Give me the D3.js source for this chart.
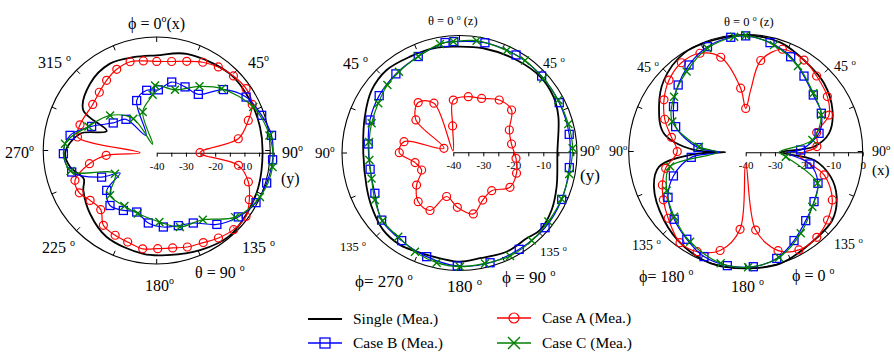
<!DOCTYPE html>
<html><head><meta charset="utf-8">
<script src="https://cdn.jsdelivr.net/npm/d3@7"></script>
<style>body{margin:0;background:#fff} text{font-family:"Liberation Serif","Times New Roman",serif;fill:#000}</style>
</head><body><svg id="c" width="894" height="355"></svg>
<script>
// ---------- DATA (angle in degrees clockwise from top, level in dB) ----------
const p1SingleAng = [0,16.9,42.9,60.7,76,90,108.7,124,139,156,174,187.5,210.7,227.5,242.8,250.4,260.6,270,283.9,293.4,300,316,332.3,346.3];
const p1SingleDb  = [-6.7,-4.7,-3.2,-3.4,-3.6,-3.8,-3.3,-2.8,-2.2,-3.5,-4.8,-5.1,-6.5,-9.1,-11.8,-13.5,-10,-8.7,-13,-21.4,-11,-7.2,-5.6,-6.4];
const p1CaseAAng = [0,9.3,18.2,27,35.7,45,54.4,63.2,70.6,80.3,90,98.8,107.7,116.9,125.5,135,144.1,152.6,162,170.5,179.4,188.3,198,206.7,216.3,224.5,234.4,242.6,251.3,260.7,267,270,281.2,290,307,316.5,325.3,334.4,343.7,351.7];
const p1CaseADb  = [-8.8,-8.4,-7.1,-5.3,-3.9,-2.9,-2.4,-3.4,-6.8,-11.7,-25.2,-11.7,-7.1,-4.5,-2.5,-2.8,-4.0,-5.4,-6.1,-7.0,-7.2,-6.8,-7.9,-8.4,-9.2,-12.7,-12.0,-10.2,-10.5,-16.7,-22.7,-34.3,-12.4,-12.1,-12.6,-11.5,-9.9,-8.4,-7.6,-8.3];
const p1CaseATips = [270];
const p1CaseBAng = [1.5,12,23.3,35.5,46.6,58.1,70.4,81.4,93.5,105.4,116.7,128.2,140,152.5,163.5,174.9,186.8,198.6,210,221.5,233,241,246.1,257.2,269.4,281.3,292,304.4,317.4,328.4,339,350.9];
const p1CaseBDb  = [-18.5,-15.3,-15.5,-15.5,-8.6,-4.0,-1.9,-0.3,-0.3,-1.0,-2.0,-4.5,-8.0,-12.9,-14,-14.5,-15.8,-18.6,-17.2,-15.9,-18.6,-25.7,-19.4,-10.2,-8.1,-9.8,-16,-22,-24.5,-33,-20.9,-18.4];
const p1CaseBTips = [241,328.4];
const p1CaseCAng = [16.2,32.8,45.4,64.7,81.3,97,113.2,129.4,145.5,162.6,177.8,197.3,211.2,227.6,243.3,258,275.6,291,308.7,325.5,334.4,341,356,358.6];
const p1CaseCDb  = [-17.6,-13,-8.8,-3.5,-1.0,-0.1,-1.6,-5.3,-12.2,-13.4,-16.3,-18.2,-18.7,-18.4,-24,-9.9,-8.5,-15,-19.6,-25.9,-36.8,-25.3,-20.1,-17];
const p1CaseCTips = [334.4];

const p2SingleAng = [0,16.1,34.4,48.9,60.9,71.2,90,108.4,120.4,131.9,139.5,151.8,165.9,176.5,187.2,200.3,209.9,222,236.4,248.4,269.4,292,307.4,321,335.6,349.1];
const p2SingleDb  = [-4.8,-3.9,-2.7,-1.6,-1.8,-3.0,-5.3,-3.7,-2.0,-1.2,-2.3,-2.4,-3.6,-3.5,-4.4,-4.7,-4.4,-5.1,-7.3,-8.9,-10,-8.2,-5.8,-4.7,-5.0,-4.7];
const p2CaseAAng = [0,15.1,27.7,41.3,54,68.3,81.9,95.5,108.3,121.7,135,148.4,162,175.8,188.6,201.8,215.4,228.3,240.8,254.9,269.6,282.2,293,310.9,324.8,338.5,350,358.5];
const p2CaseADb  = [-22.6,-20.8,-19.7,-16.8,-16,-19.9,-20.4,-19,-17.8,-17.8,-21.9,-21.3,-18.4,-21.6,-25.1,-19.1,-19.8,-23.6,-27.9,-26.8,-22,-23.2,-36.6,-23.5,-19.7,-22.4,-39.5,-31.2];
const p2CaseATips = [350];
const p2CaseBAng = [0.3,16.1,32.8,49.2,64.9,81.2,97.5,113.5,129.4,145.8,161.6,178,194.3,210.3,226.6,242.4,258.5,275.6,291.2,307.4,323.8,339.9,355.7];
const p2CaseBDb  = [-3.1,-2.0,-1.4,-1.1,-1.0,-0.9,-1.0,-0.6,-0.4,-0.9,-1.2,-2.1,-4.1,-5.9,-7.1,-10.5,-11.7,-11.5,-10.2,-8.9,-7.6,-6.0,-3.3];
const p2CaseCAng = [0,11.8,27.7,38,50.6,63.5,76.2,88,100.6,113.3,126.1,138.4,151.3,164.1,176.7,188.6,201.1,213.1,226,238.7,252.3,264.8,277,289.6,303.2,315.6,326,339.9,353];
const p2CaseCDb  = [-3.1,-2.0,-1.7,-1.2,-1.2,-0.9,-0.5,-0.2,-0.7,-0.7,-0.8,-0.65,-0.6,-1.5,-1.8,-2.8,-4.5,-6.4,-7.2,-9.4,-11.4,-11.9,-11.7,-11.1,-10.1,-8.6,-7.6,-6.0,-3.6];

const p3SingleAng = [0,17.7,34.7,48.6,64,77.2,85.3,90,96.4,106,116,128,144.5,162.5,180,197.5,213.2,230.4,249.5,260.6,268,270,272.6,283,297.8,311.5,328,342.9];
const p3SingleDb  = [0,-0.65,-3,-4.3,-7.0,-10.8,-16.6,-28,-16.5,-9.8,-5.4,-2.4,-1.8,-0.2,-0.3,-0.2,-1.5,-3.7,-6.5,-10,-22.3,-33,-22.3,-11.3,-6.5,-2.7,-0.1,-0.1];
const p3CaseAAng = [0,4.6,9.3,19.6,32.3,42.9,55.7,65.9,74.5,85.4,93,106.1,118.8,129.6,140.1,151.4,161.8,172.7,180,184.2,194.6,206,216,229.6,240,248.6,258.7,270.6,281.4,292.2,302.7,313.3,324.3,335.2,345.3,355.5];
const p3CaseADb  = [-25,-18.6,-8.2,-2.6,-2.7,-4.4,-6.2,-8.8,-14.8,-15.6,-21.5,-12.1,-6.2,-3.7,-2.1,-2.0,-4.6,-13.2,-36.2,-13.6,-5.3,-2.2,-1.8,-5.2,-7.5,-9.4,-12.1,-16.6,-14.1,-10.1,-6.8,-4.0,-2.3,-2.7,-6.4,-18];
const p3CaseATips = [4.6,93,180];
const p3CaseBAng = [0,12.5,25.2,37.4,49.7,62.7,75.5,87.6,90.5,100.3,113.2,125.8,138.7,151.3,163.7,176.2,189.2,201.8,214.1,226.9,239.9,251.9,264.7,270,275.6,290.1,302.3,314.9,327,340.1,352.6];
const p3CaseBDb  = [-0.2,-1.6,-3.9,-7.2,-9.7,-10.9,-14.1,-21.2,-25.8,-17.7,-13.1,-11.2,-8.9,-5.6,-2.2,-0.8,-0.75,-1.6,-4.1,-6.5,-9.3,-14,-21.3,-31,-23.6,-14.5,-10.8,-7.4,-4.4,-1.6,-0.35];
const p3CaseBTips = [90.5,270];
const p3CaseCAng = [0,14.8,31.2,48.9,63.7,79.5,90,96.2,113.4,129.2,145.8,162.4,178.8,192.7,211.9,228,244.1,259.3,270,276.9,292.7,307.8,323.8,339.8,354.3];
const p3CaseCDb  = [0,-2.1,-5.5,-9.3,-11.2,-16.8,-28.6,-26.2,-13.3,-10.6,-6.5,-2.3,-0.7,-1.1,-4.0,-7.1,-10,-13.7,-30.3,-23.9,-12.8,-9.0,-5.8,-2.1,-0.3];
const p3CaseCTips = [90,270];

const radialDomain = [-40, 0];
const radialTicks = [-40,-35,-30,-25,-20,-15,-10,-5,0];
const p1TickLabels = [-40,-30,-20,-10];
const p2TickLabels = [-40,-30,-20,-10];
const p3TickLabels = [-40,-30,-20,-10,0];
const seriesNames = ["Single (Mea.)","Case A (Mea.)","Case B (Mea.)","Case C (Mea.)"];

// ---------- STYLE / LAYOUT ----------
const FONT = "'Liberation Serif','Times New Roman',serif";
const styles = [
  {color:"#000000", width:1.8, marker:null},
  {color:"#ff0000", width:1.2, marker:"circle"},
  {color:"#0000ff", width:1.2, marker:"square"},
  {color:"#008000", width:1.2, marker:"cross"}
];

const svg = d3.select("#c");

const panels = [
  {cx:156.7, cy:152.7, R:117, ring:{cx:156.7, cy:150.5, r:113.5}, labels:p1TickLabels,
   data:[[p1SingleAng,p1SingleDb,[]],[p1CaseAAng,p1CaseADb,p1CaseATips],[p1CaseBAng,p1CaseBDb,p1CaseBTips],[p1CaseCAng,p1CaseCDb,p1CaseCTips]]},
  {cx:453.3, cy:152.3, R:120, ring:{cx:459.5, cy:153, r:117.5}, labels:p2TickLabels,
   data:[[p2SingleAng,p2SingleDb,[]],[p2CaseAAng,p2CaseADb,p2CaseATips],[p2CaseBAng,p2CaseBDb,[]],[p2CaseCAng,p2CaseCDb,[]]]},
  {cx:745.7, cy:152.3, R:117, ring:{cx:745.7, cy:151.5, r:117}, labels:p3TickLabels,
   data:[[p3SingleAng,p3SingleDb,[]],[p3CaseAAng,p3CaseADb,p3CaseATips],[p3CaseBAng,p3CaseBDb,p3CaseBTips],[p3CaseCAng,p3CaseCDb,p3CaseCTips]]}
];

function drawMarker(g, type, x, y, color, s) {
  if (type === "circle") {
    g.append("circle").attr("cx",x).attr("cy",y).attr("r",s).attr("fill","none").attr("stroke",color).attr("stroke-width",1.2);
  } else if (type === "square") {
    g.append("rect").attr("x",x-s).attr("y",y-s).attr("width",2*s).attr("height",2*s).attr("fill","none").attr("stroke",color).attr("stroke-width",1.3);
  } else if (type === "cross") {
    g.append("path").attr("d",`M${x-s},${y-s}L${x+s},${y+s}M${x-s},${y+s}L${x+s},${y-s}`).attr("stroke",color).attr("stroke-width",1.4);
  }
}

panels.forEach(p => {
  const r = d3.scaleLinear().domain(radialDomain).range([0, p.R]).clamp(true);
  const pt = (a, v) => { const t = a*Math.PI/180, rr = r(v); return [p.cx + rr*Math.sin(t), p.cy - rr*Math.cos(t)]; };
  const g = svg.append("g");
  // outer ring
  const rg = p.ring;
  g.append("circle").attr("cx",rg.cx).attr("cy",rg.cy).attr("r",rg.r).attr("fill","none").attr("stroke","#000").attr("stroke-width",1.1);
  d3.range(0,360,22.5).forEach(a => {
    const t=a*Math.PI/180, R0=rg.r, R1=rg.r-5;
    g.append("line").attr("x1",rg.cx+R0*Math.sin(t)).attr("y1",rg.cy-R0*Math.cos(t))
      .attr("x2",rg.cx+R1*Math.sin(t)).attr("y2",rg.cy-R1*Math.cos(t)).attr("stroke","#000").attr("stroke-width",1);
  });
  // radial axis
  const xs = d3.scaleLinear().domain(radialDomain).range([p.cx, p.cx + p.R]);
  const ax = g.append("g").attr("transform",`translate(0,${p.cy})`)
    .call(d3.axisBottom(xs).tickValues(radialTicks).tickSize(4).tickSizeOuter(0)
      .tickFormat(d => p.labels.includes(d) ? String(d) : ""));
  ax.attr("font-family", FONT);
  ax.select(".domain").attr("stroke","#000").attr("stroke-width",1.1);
  ax.selectAll(".tick line").attr("stroke","#000");
  ax.selectAll(".tick text").attr("font-size",11).style("font-family",FONT).attr("dy","0.9em");
  // series
  p.data.forEach((s, i) => {
    const st = styles[i];
    const pts = s[0].map((a, k) => pt(a, s[1][k]));
    g.append("path").attr("d", d3.line().curve(d3.curveCatmullRomClosed.alpha(0.5))(pts))
      .attr("fill","none").attr("stroke",st.color).attr("stroke-width",st.width).attr("stroke-linejoin","round");
    if (st.marker) {
      s[0].forEach((a, k) => {
        if (s[2].includes(a)) return;
        drawMarker(g, st.marker, pts[k][0], pts[k][1], st.color, 4);
      });
    }
  });
});

// ---------- angle labels ----------
function lab(x, y, main, sup, tail, size) {
  const t = svg.append("text").attr("x",x).attr("y",y).attr("font-size",size).style("font-family",FONT);
  t.append("tspan").text(main);
  if (sup) t.append("tspan").attr("font-size",size*0.62).attr("dy",-size*0.42).text(sup);
  if (tail) t.append("tspan").attr("dy",size*0.42).text(tail);
}
// panel 1
lab(128,29,"\u03D5 = 0","o","(x)",16);
lab(38,68,"315 ","o","",16);
lab(248,68,"45","o","",16);
lab(5,158,"270","o","",16);
lab(282,158,"90","o","",16);
lab(281,184,"(y)","","",16);
lab(42,253,"225 ","o","",16);
lab(242,253,"135 ","o","",16);
lab(195,278,"\u03B8 = 90 ","o","",16);
lab(145,291,"180","o","",16);
// panel 2
lab(428,25,"\u03B8 = 0 ","o"," (z)",12.5);
lab(343,69,"45 ","o","",16);
lab(543,68,"45 ","o","",14);
lab(315,158,"90","o","",15);
lab(580,156,"90","o","",15);
lab(580,181,"(y)","","",17);
lab(340,251,"135 ","o","",12.5);
lab(540,256,"135 ","o","",13);
lab(355,287,"\u03D5= 270 ","o","",17);
lab(447,292,"180 ","o","",17);
lab(502,283,"\u03D5 = 90 ","o","",17);
// panel 3
lab(724,26,"\u03B8 = 0 ","o"," (z)",12.5);
lab(637,72,"45 ","o","",14);
lab(834,71,"45 ","o","",14);
lab(609,156,"90","o","",14);
lab(872,156,"90","o","",14);
lab(872,175,"(x)","","",15);
lab(632,250,"135 ","o","",14);
lab(834,249,"135 ","o","",14);
lab(639,282,"\u03D5= 180 ","o","",16);
lab(731,292,"180 ","o","",16);
lab(792,281,"\u03D5 = 0 ","o","",16);

// ---------- legend ----------
const legPos = [[308,319],[497,318],[308,343],[497,343]];
seriesNames.forEach((name, i) => {
  const st = styles[i], [x, y] = legPos[i];
  svg.append("line").attr("x1",x).attr("x2",x+34).attr("y1",y).attr("y2",y).attr("stroke",st.color).attr("stroke-width",st.width+0.4);
  if (st.marker) drawMarker(svg, st.marker, x+17, y, st.color, st.marker==="cross"?6:5);
  svg.append("text").attr("x",x+45).attr("y",y+5).attr("font-size",15.5).style("font-family",FONT).text(name);
});
</script></body></html>
